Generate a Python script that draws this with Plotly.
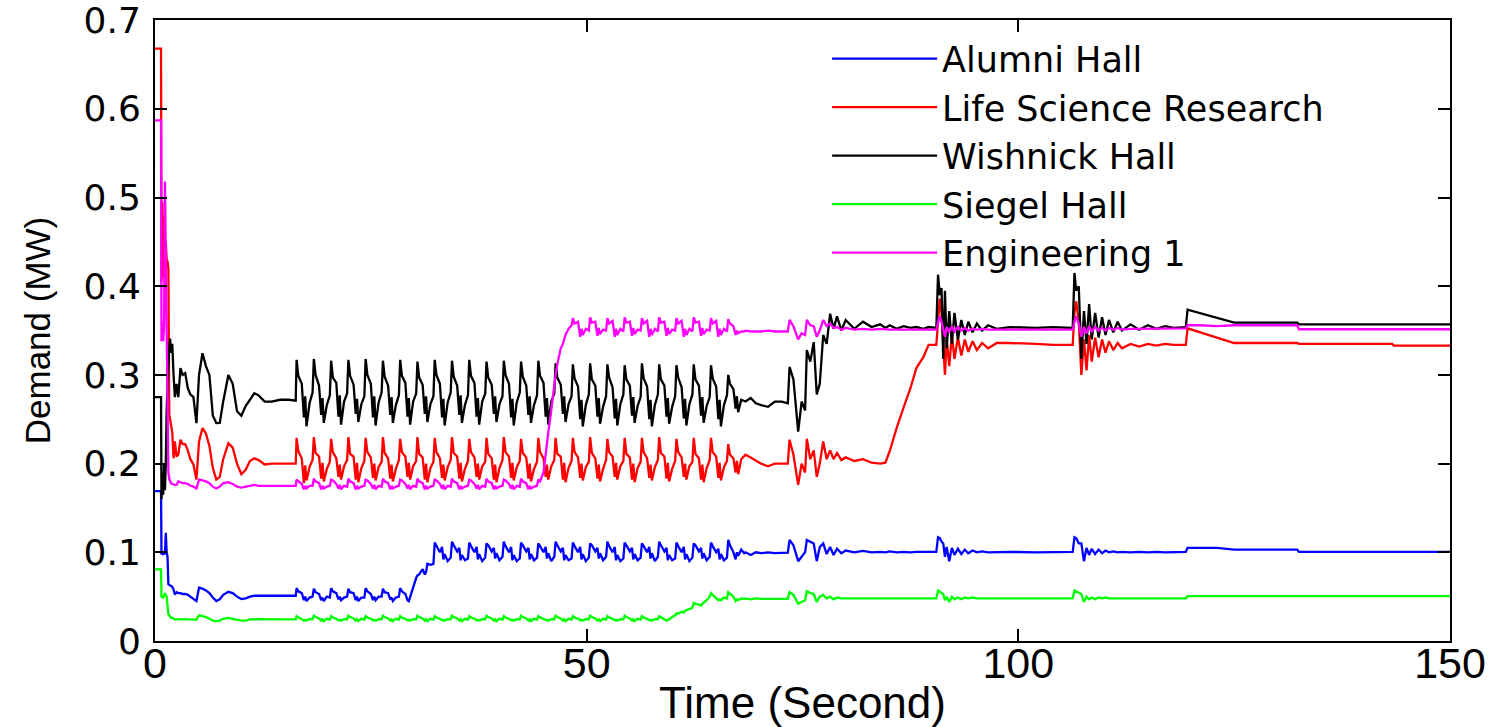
import plotly.graph_objects as go

# ---------------- data ----------------
names = ["Alumni Hall", "Life Science Research", "Wishnick Hall", "Siegel Hall", "Engineering 1"]
colors = ["#0000FF", "#FF0000", "#000000", "#00FF00", "#FF00FF"]

x_ticks = [0, 50, 100, 150]
y_ticks = [0, 0.1, 0.2, 0.3, 0.4, 0.5, 0.6, 0.7]
y_ticktext = ["0", "0.1", "0.2", "0.3", "0.4", "0.5", "0.6", "0.7"]

# time stamps (s) of the start-up part
time_start = [0, 0.7, 0.75, 0.85, 0.95,
              1.05, 1.15, 1.25, 1.35, 1.45,
              1.55, 1.65, 1.75, 1.85, 2.0,
              2.15, 2.3, 2.5, 2.7, 2.95,
              3.2, 3.5, 3.8, 4.1, 4.45,
              4.8, 5.1, 5.5, 5.9, 6.3,
              6.7, 7.1, 7.5, 7.9, 8.5,
              9.0, 9.5, 10.0, 10.5, 11.0,
              11.5, 12.0, 12.7, 13.5, 14.5,
              15.5, 16.3]

# the 2-second control cycles
cycle_starts = [16.4, 18.4, 20.4, 22.4, 24.4, 26.4, 28.4, 30.4, 32.4, 34.4,
                36.4, 38.4, 40.4, 42.4, 44.4, 46.4, 48.4, 50.4, 52.4, 54.4,
                56.4, 58.4, 60.4, 62.4, 64.4, 66.4]
cycle_offsets = [0, 0.2, 0.6, 0.85, 1.0, 1.15, 1.5, 1.85]

# time stamps of the later part
time_end = [68.4, 69.0, 69.6, 70.2, 71.0, 71.8, 72.6, 73.3,
            73.5, 73.95, 74.5, 74.9, 75.3, 75.5, 75.9, 76.3, 76.65, 77.0,
            77.4, 77.8, 78.2, 78.6, 79.0, 79.5, 80.0, 81.0, 82.0, 83.0,
            84.0, 84.6, 85.1, 85.9, 86.7, 87.5, 88.2, 89.0, 89.6, 90.5,
            90.7, 90.9, 91.1, 91.3, 91.5, 91.7, 92.0, 92.3, 92.6, 93.0,
            93.4, 93.8, 94.2, 94.7, 95.2, 95.8, 96.5, 97.5, 99.0, 102.0,
            104.0, 106.3, 106.5, 106.7, 107.0, 107.3, 107.6, 107.9, 108.2, 108.5,
            108.9, 109.3, 109.7, 110.1, 110.5, 111.0, 111.5, 112.0, 113.0, 114.0,
            115.0, 116.0, 117.0, 118.0, 119.4, 119.6, 121.0, 123.0, 125.0, 128.0,
            132.3, 132.5, 137.0, 143.3, 143.5, 150.0]

# ---- Alumni Hall (MW)
alumni_start = [.169, .169, .0975, .1, .097,
                .1, .098, .122, .1, .095,
                .064, .063, .063, .062, .061,
                .058, .0525, .055, .054, .054,
                .053, .053, .052, .05, .048,
                .045, .06, .059, .057, .054,
                .049, .045, .047, .052, .0555,
                .054, .05, .0473, .048, .05,
                .051, .051, .0505, .051, .051,
                .051, .051]
alumni_cycles = [
    [.0596, .056, .054, .046, .050, .045, .049, .050],
    [.059, .055, .053, .046, .049, .045, .050, .049],
    [.0596, .056, .054, .047, .050, .046, .049, .050],
    [.059, .055, .054, .046, .050, .045, .049, .049],
    [.0596, .056, .053, .046, .050, .046, .050, .050],
    [.059, .055, .054, .047, .049, .045, .049, .050],
    [.0596, .056, .053, .046, .045, .050, .060, .071],
    [.074, .075, .081, .075, .078, .087, .086, .087],
    [.111, .107, .100, .106, .092, .098, .090, .094],
    [.112, .108, .101, .105, .091, .097, .091, .093],
    [.111, .107, .100, .106, .092, .098, .090, .094],
    [.110, .108, .101, .105, .093, .099, .091, .095],
    [.112, .107, .100, .106, .091, .097, .090, .093],
    [.111, .108, .101, .105, .092, .098, .091, .094],
    [.110, .107, .100, .106, .093, .099, .090, .095],
    [.112, .108, .101, .105, .091, .097, .091, .093],
    [.111, .107, .100, .106, .092, .098, .090, .094],
    [.110, .108, .101, .105, .093, .099, .091, .095],
    [.112, .107, .100, .106, .091, .097, .090, .093],
    [.111, .108, .101, .105, .092, .098, .091, .094],
    [.110, .107, .100, .106, .093, .099, .090, .095],
    [.112, .108, .101, .105, .091, .097, .091, .093],
    [.111, .107, .100, .106, .092, .098, .090, .094],
    [.110, .108, .101, .105, .093, .099, .091, .095],
    [.111, .107, .100, .104, .092, .098, .091, .094],
    [.114, .108, .100, .092, .100, .096, .103, .099],
]
alumni_end = [.1, .097, .1, .099, .1, .099, .0995, .0995,
              .114, .108, .09, .095, .1, .114, .112, .11, .09, .106,
              .11, .098, .106, .097, .104, .099, .102, .1, .1015, .1,
              .1005, .1, .101, .1, .1005, .1, .1005, .1005, .1, .1005,
              .117, .116, .112, .11, .095, .106, .09, .105, .097, .104,
              .098, .103, .099, .102, .1, .101, .1, .1005, .1005, .1,
              .1005, .1005, .117, .116, .11, .11, .09, .105, .097, .104,
              .098, .103, .099, .102, .1, .101, .1, .1005, .1, .1005,
              .1, .1005, .1, .1005, .1005, .105, .105, .105, .103, .103,
              .103, .1005, .1005, .1005, .1005, .1005]

# ---- Life Science Research (MW)
life_start = [.668, .668, .405, .495, .41,
              .48, .42, .45, .43, .428,
              .42, .255, .25, .244, .235,
              .206, .225, .208, .21, .227,
              .222, .222, .215, .205, .199,
              .182, .225, .24, .234, .22,
              .195, .182, .185, .205, .223,
              .218, .2, .188, .193, .203,
              .206, .204, .199, .2, .2,
              .2, .2]
life_cycles = [
    [.229, .214, .206, .178, .198, .181, .196, .204],
    [.230, .212, .208, .183, .201, .180, .194, .202],
    [.228, .213, .206, .185, .199, .182, .197, .204],
    [.230, .211, .208, .182, .201, .179, .195, .203],
    [.229, .213, .207, .184, .200, .181, .196, .202],
    [.230, .212, .206, .183, .199, .180, .194, .204],
    [.228, .213, .208, .185, .201, .182, .197, .203],
    [.230, .211, .207, .182, .200, .179, .195, .202],
    [.229, .213, .206, .184, .199, .181, .196, .204],
    [.230, .212, .208, .183, .201, .180, .194, .203],
    [.228, .213, .207, .185, .200, .182, .197, .202],
    [.229, .211, .206, .182, .199, .179, .195, .204],
    [.230, .213, .208, .184, .201, .181, .196, .203],
    [.228, .212, .207, .183, .200, .180, .194, .202],
    [.229, .213, .206, .185, .199, .182, .197, .204],
    [.229, .211, .208, .182, .201, .179, .195, .203],
    [.229, .213, .207, .184, .200, .181, .196, .202],
    [.230, .212, .206, .183, .199, .180, .194, .204],
    [.228, .213, .208, .185, .201, .182, .197, .203],
    [.229, .211, .207, .182, .200, .179, .195, .202],
    [.229, .213, .206, .184, .199, .181, .196, .204],
    [.230, .212, .208, .183, .201, .180, .194, .203],
    [.228, .213, .207, .185, .200, .182, .197, .202],
    [.229, .211, .206, .182, .199, .179, .195, .204],
    [.229, .213, .208, .184, .201, .181, .196, .203],
    [.222, .210, .206, .190, .203, .188, .205, .209],
]
life_end = [.21, .207, .203, .2, .197, .2, .2, .2,
            .227, .21, .176, .2, .19, .228, .205, .215, .185, .2,
            .225, .205, .215, .205, .212, .204, .207, .203, .205, .201,
            .2, .201, .214, .24, .263, .285, .308, .32, .334, .334,
            .36, .386, .37, .34, .30, .34, .31, .345, .318, .342,
            .322, .34, .326, .338, .328, .336, .33, .336, .336, .335,
            .334, .334, .37, .383, .36, .30, .34, .305, .345, .315,
            .342, .32, .34, .325, .338, .328, .336, .33, .335, .332,
            .335, .333, .335, .334, .334, .3526, .348, .342, .336, .336,
            .336, .335, .335, .335, .333, .333]

# ---- Wishnick Hall (MW)
wish_start = [.275, .275, .16, .19, .165,
              .2, .17, .2, .26, .30,
              .31, .33, .341, .325, .335,
              .30, .275, .29, .275, .3076,
              .30, .302, .285, .278, .275,
              .2457, .30, .3245, .31, .30,
              .254, .2457, .246, .27, .30,
              .29, .259, .254, .265, .272,
              .2794, .277, .27, .27, .272,
              .272, .271]
wish_cycles = [
    [.317, .299, .290, .252, .276, .242, .268, .280],
    [.318, .300, .288, .255, .274, .246, .266, .277],
    [.316, .297, .291, .253, .277, .244, .270, .279],
    [.317, .299, .289, .256, .273, .247, .267, .276],
    [.318, .300, .290, .252, .276, .243, .269, .280],
    [.316, .298, .288, .255, .275, .246, .266, .277],
    [.317, .299, .291, .253, .274, .244, .270, .279],
    [.315, .297, .289, .256, .276, .247, .267, .276],
    [.317, .300, .290, .252, .273, .243, .269, .280],
    [.316, .298, .288, .255, .277, .246, .266, .277],
    [.317, .299, .291, .253, .274, .244, .270, .279],
    [.315, .297, .289, .256, .276, .247, .267, .276],
    [.316, .300, .290, .252, .273, .243, .269, .280],
    [.315, .298, .288, .255, .276, .246, .266, .277],
    [.316, .299, .291, .253, .274, .244, .270, .279],
    [.313, .297, .289, .256, .276, .247, .267, .276],
    [.312, .296, .287, .250, .272, .242, .266, .278],
    [.313, .295, .288, .253, .274, .245, .264, .276],
    [.312, .297, .286, .251, .273, .243, .267, .278],
    [.311, .295, .288, .254, .275, .246, .265, .275],
    [.313, .296, .287, .250, .272, .242, .266, .278],
    [.312, .295, .288, .253, .274, .245, .264, .276],
    [.311, .297, .286, .251, .273, .243, .267, .278],
    [.312, .295, .288, .254, .275, .246, .265, .275],
    [.311, .296, .287, .250, .272, .242, .266, .277],
    [.300, .290, .284, .262, .276, .258, .272, .271],
]
wish_end = [.270, .274, .268, .266, .264, .27, .27, .268,
            .309, .295, .236, .27, .26, .328, .315, .337, .278, .29,
            .345, .335, .369, .352, .366, .35, .362, .352, .36, .354,
            .357, .353, .356, .352, .355, .353, .354, .352, .354, .353,
            .413, .39, .398, .318, .395, .33, .372, .335, .37, .34,
            .362, .345, .36, .348, .358, .35, .356, .352, .354, .353,
            .354, .353, .415, .395, .40, .318, .372, .335, .38, .34,
            .37, .342, .365, .345, .362, .348, .36, .35, .357, .351,
            .356, .352, .355, .353, .354, .3736, .37, .365, .359, .359,
            .359, .357, .357, .357, .357, .357]

# ---- Siegel Hall (MW)
siegel_start = [.0807, .0807, .049, .05, .049,
                .052, .054, .052, .05, .04,
                .030, .029, .027, .026, .026,
                .025, .0244, .0244, .0245, .025,
                .025, .0245, .0244, .024, .024,
                .024, .0289, .028, .027, .025,
                .023, .0225, .023, .025, .026,
                .025, .024, .023, .023, .0244,
                .0245, .0245, .0244, .0244, .0244,
                .0244, .0244]
siegel_cycles = [
    [.028, .027, .025, .023, .024, .023, .025, .0245],
    [.0285, .027, .0255, .023, .0245, .0225, .025, .024],
    [.028, .0265, .025, .0235, .024, .023, .0245, .0245],
    [.0285, .027, .0255, .023, .0245, .0225, .025, .024],
    [.028, .0265, .025, .0235, .024, .023, .0245, .0245],
    [.0285, .027, .0255, .023, .0245, .0225, .025, .024],
    [.028, .0265, .025, .0235, .024, .023, .0245, .0245],
    [.0285, .027, .0255, .023, .0245, .0225, .025, .024],
    [.028, .0265, .025, .0235, .024, .023, .0245, .0245],
    [.0285, .027, .0255, .023, .0245, .0225, .025, .024],
    [.028, .0265, .025, .0235, .024, .023, .0245, .0245],
    [.0285, .027, .0255, .023, .0245, .0225, .025, .024],
    [.028, .0265, .025, .0235, .024, .023, .0245, .0245],
    [.0285, .027, .0255, .023, .0245, .0225, .025, .024],
    [.028, .0265, .025, .0235, .024, .023, .0245, .0245],
    [.0285, .027, .0255, .023, .0245, .0225, .025, .024],
    [.028, .0265, .025, .0235, .024, .023, .0245, .0245],
    [.0285, .027, .0255, .023, .0245, .0225, .025, .024],
    [.028, .0265, .025, .0235, .024, .023, .0245, .0245],
    [.0285, .027, .0255, .023, .0245, .0225, .025, .024],
    [.028, .0265, .025, .0235, .024, .023, .0245, .0245],
    [.028, .027, .025, .023, .024, .024, .027, .029],
    [.031, .031, .033, .032, .034, .035, .036, .0375],
    [.043, .042, .041, .040, .042, .043, .046, .050],
    [.054, .052, .048, .046, .047, .046, .049, .048],
    [.055, .053, .050, .045, .047, .046, .048, .0476],
]
siegel_end = [.048, .047, .048, .0476, .0476, .0476, .0476, .0476,
              .055, .052, .042, .044, .046, .056, .054, .053, .044, .05,
              .052, .048, .05, .047, .049, .048, .048, .048, .048, .048,
              .048, .048, .048, .048, .048, .048, .048, .048, .048, .048,
              .057, .056, .054, .053, .046, .05, .044, .05, .047, .049,
              .047, .049, .048, .049, .048, .048, .048, .048, .048, .048,
              .048, .048, .057, .056, .054, .053, .044, .05, .047, .049,
              .047, .049, .048, .049, .048, .048, .048, .048, .048, .048,
              .048, .048, .048, .048, .048, .0505, .0505, .0505, .0505, .0505,
              .0505, .0505, .0505, .0505, .0505, .0505]

# ---- Engineering 1 (MW)
eng_start = [.587, .587, .338, .36, .338,
             .355, .518, .45, .37, .28,
             .19, .183, .18, .178, .177,
             .176, .176, .176, .18, .179,
             .178, .178, .177, .175, .174,
             .172, .182, .181, .18, .178,
             .174, .172, .174, .178, .179,
             .177, .174, .173, .174, .175,
             .176, .175, .175, .175, .175,
             .175, .175]
eng_cycles = [
    [.182, .180, .177, .171, .175, .172, .175, .175],
    [.183, .180, .178, .171, .175, .172, .174, .175],
    [.182, .181, .177, .172, .176, .171, .175, .174],
    [.183, .180, .178, .171, .175, .172, .174, .175],
    [.182, .181, .177, .172, .176, .171, .175, .174],
    [.183, .180, .178, .171, .175, .172, .174, .175],
    [.182, .181, .177, .172, .176, .171, .175, .174],
    [.183, .180, .178, .171, .175, .172, .174, .175],
    [.182, .181, .177, .172, .176, .171, .175, .174],
    [.183, .180, .178, .171, .175, .172, .174, .175],
    [.182, .181, .177, .172, .176, .171, .175, .174],
    [.183, .180, .178, .171, .175, .172, .174, .175],
    [.182, .181, .177, .172, .176, .171, .175, .174],
    [.183, .180, .178, .171, .175, .172, .174, .175],
    [.182, .180, .190, .210, .225, .235, .260, .290],
    [.300, .312, .330, .335, .340, .345, .352, .356],
    [.364, .358, .360, .343, .352, .345, .352, .350],
    [.365, .359, .360, .344, .353, .346, .351, .350],
    [.364, .358, .361, .343, .352, .345, .352, .349],
    [.365, .359, .360, .344, .353, .346, .351, .350],
    [.364, .358, .361, .343, .352, .345, .352, .349],
    [.365, .359, .360, .344, .353, .346, .351, .350],
    [.364, .358, .361, .343, .352, .345, .352, .349],
    [.365, .359, .360, .344, .353, .346, .351, .350],
    [.364, .358, .361, .343, .352, .345, .352, .349],
    [.363, .358, .355, .345, .350, .347, .349, .349],
]
eng_end = [.35, .349, .349, .349, .35, .349, .349, .349,
           .362, .355, .34, .347, .345, .362, .356, .355, .343, .35,
           .362, .355, .358, .353, .354, .351, .353, .351, .352, .351,
           .352, .351, .351, .351, .351, .351, .351, .351, .351, .351,
           .36, .366, .36, .352, .343, .354, .348, .355, .349, .354,
           .35, .353, .35, .352, .351, .352, .351, .351, .351, .351,
           .351, .351, .36, .366, .358, .343, .354, .347, .355, .349,
           .354, .35, .353, .35, .353, .351, .353, .351, .352, .352,
           .352, .352, .352, .352, .3526, .356, .356, .355, .356, .356,
           .356, .3515, .3515, .3515, .3515, .3515]

# ---------------- assemble ----------------
time_cycles = [s + o for s in cycle_starts for o in cycle_offsets]
time_all = time_start + time_cycles + time_end

series = [
    (alumni_start, alumni_cycles, alumni_end),
    (life_start, life_cycles, life_end),
    (wish_start, wish_cycles, wish_end),
    (siegel_start, siegel_cycles, siegel_end),
    (eng_start, eng_cycles, eng_end),
]

fig = go.Figure()
for name, color, (s, c, e) in zip(names, colors, series):
    vals = list(s) + [v for row in c for v in row] + list(e)
    if len(vals) != len(time_all):
        raise ValueError(f"{name}: {len(vals)} values vs {len(time_all)} times")
    fig.add_trace(go.Scatter(x=time_all, y=vals, mode="lines", name=name,
                             line=dict(color=color, width=2.3)))

axis_common = dict(
    showline=True, linecolor="black", linewidth=2, mirror="ticks",
    ticks="inside", ticklen=12, tickwidth=1.5, tickcolor="black",
    showgrid=False, zeroline=False, automargin=False,
    ticklabeloverflow="allow",
)

fig.update_layout(
    width=1493, height=727,
    margin=dict(l=155, r=43, t=20, b=86),
    paper_bgcolor="white", plot_bgcolor="white",
    legend=dict(x=0.519, y=0.985, xanchor="left", yanchor="top",
                font=dict(family="DejaVu Sans, Liberation Sans, sans-serif", size=35, color="black"),
                bgcolor="rgba(0,0,0,0)", borderwidth=0, itemwidth=105),
    xaxis=dict(range=[0, 150], tickvals=x_ticks,
               tickfont=dict(family="Liberation Sans, Arial, sans-serif", size=43, color="black"),
               ticklabelstandoff=-17,
               title=dict(text="Time (Second)", standoff=22,
                          font=dict(family="Liberation Sans, Arial, sans-serif", size=44, color="black")),
               **axis_common),
    yaxis=dict(range=[0, 0.7002], tickvals=y_ticks, ticktext=y_ticktext,
               tickfont=dict(family="DejaVu Sans, Liberation Sans, sans-serif", size=36, color="black"),
               ticklabelstandoff=5,
               title=dict(text="Demand (MW)", standoff=22,
                          font=dict(family="Liberation Sans, Arial, sans-serif", size=35, color="black")),
               **axis_common),
)

# remove the page's default 8 px body margin so the 1493x727 figure fills the window
fig.write_html("out.html",
               config={"displayModeBar": False},
               post_script="document.body.style.margin='0';document.body.style.overflow='hidden';")
